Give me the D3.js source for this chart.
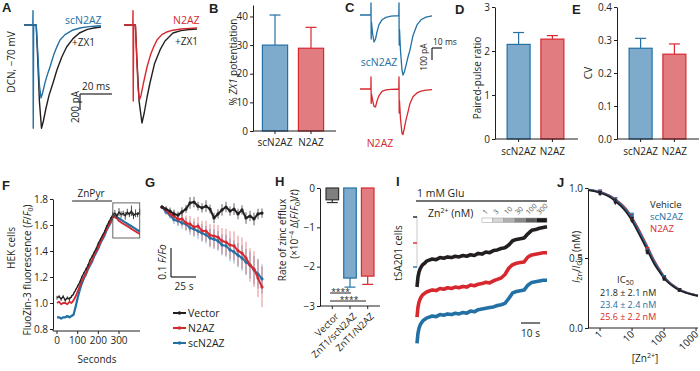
<!DOCTYPE html>
<html>
<head>
<meta charset="utf-8">
<script src="https://cdn.jsdelivr.net/npm/d3@7"></script>
<style>
  body { margin: 0; background: #fff; }
  svg text { font-family: "Open Sans", sans-serif; fill: #231f20; }
  svg .letter { font-family: "Liberation Sans", Arial, sans-serif; font-weight: bold; font-size: 13px; }
</style>
</head>
<body>
<svg id="fig" width="700" height="371"></svg>
<script>
// ---- data ----
// A: EPSCs (ms, pA) for scN2AZ and N2AZ, control vs +ZX1
const aTimeSc   = [-5.6, -0.1, 0, 0.15, 0.4, 2, 3, 4, 5, 6, 7.5, 9, 10.6, 13, 15, 16.9, 20, 25, 30, 35, 40, 42.5];
const aScCtrl   = [0, 0, 180, -1290, 0, 0, -350, -750, -912, -850, -720, -620, -525, -370, -270, -188, -120, -62, -35, -20, -12, -10];
const aTimeScZx = [-5.6, 2, 3, 4, 5.3, 6.5, 8, 10, 12.5, 15, 18, 21, 25, 29, 34, 38, 42.5];
const aScZx     = [0, 0, -450, -950, -1290, -1200, -1050, -880, -725, -560, -400, -275, -170, -100, -55, -38, -25];
const aTimeN2   = [-5.6, -0.1, 0, 0.15, 0.4, 1.5, 2.3, 3.2, 4, 5, 6.5, 8.75, 11, 13, 15, 18, 21, 25, 30, 35, 40];
const aN2Ctrl   = [0, 0, 180, -950, 0, 0, -400, -800, -937, -880, -730, -525, -370, -270, -188, -120, -88, -65, -50, -42, -37];
const aTimeN2Zx = [-5.6, 1.5, 2.5, 3.8, 5.6, 7, 8.8, 10.6, 13.5, 16.9, 20, 25, 30, 35, 40];
const aN2Zx     = [0, 0, -450, -950, -1225, -1100, -900, -725, -480, -312, -200, -100, -70, -57, -50];

// B, D, E: bar values
const groups   = ['scN2AZ', 'N2AZ'];
const bPot     = [30, 28.9];
const bPotErr  = [10.5, 7.3];
const dPpr     = [2.15, 2.27];
const dPprErr  = [0.27, 0.08];
const eCv      = [0.275, 0.257];
const eCvErr   = [0.030, 0.031];

// C: paired-pulse traces (ms, pA)
const cTime    = [-11, -0.1, 0, 0.2, 0.5, 1.5, 3, 4.5, 6, 8, 11, 15, 20, 27.8, 28, 28.2, 28.5, 29.5, 31, 32, 33.5, 35, 37, 39, 42, 46, 50, 55, 61];
const cScN2AZ  = [0, 0, 100, -200, -60, -150, -225, -200, -140, -80, -40, -20, -10, -5, 100, -250, -120, -300, -460, -500, -470, -420, -350, -290, -170, -83, -40, -18, -8];
const cN2AZ    = [0, 0, 100, -120, -40, -90, -145, -150, -100, -55, -20, -8, -3, 0, 100, -200, -100, -250, -370, -380, -320, -257, -190, -120, -65, -33, -18, -10, -5];

// F: FluoZin-3 F/F0 vs seconds
const fTime    = [0,10,20,30,40,50,60,70,80,90,100,110,120,130,140,150,160,170,180,190,200,210,220,230,240,250,260,270,280,290,300,310,320,330,340,350,360,370,380,390,400];
const fVector  = [1.04,1.05,1.03,1.05,1.02,1.04,1.03,1.05,1.07,1.10,1.13,1.16,1.20,1.23,1.26,1.29,1.33,1.36,1.39,1.42,1.46,1.49,1.52,1.55,1.59,1.62,1.65,1.68,1.69,1.67,1.70,1.68,1.69,1.67,1.70,1.68,1.71,1.67,1.69,1.68,1.70];
const fVecErr  = [0.015,0.012,0.015,0.012,0.014,0.012,0.015,0.012,0.012,0.01,0.01,0.01,0.01,0.01,0.01,0.01,0.01,0.01,0.01,0.01,0.01,0.01,0.01,0.01,0.01,0.012,0.012,0.02,0.025,0.02,0.03,0.025,0.02,0.03,0.025,0.02,0.04,0.025,0.03,0.02,0.025];
const fN2AZ    = [1.00,1.01,0.99,1.00,1.00,0.99,1.01,1.00,1.02,1.05,1.09,1.13,1.17,1.20,1.23,1.27,1.30,1.33,1.37,1.40,1.43,1.47,1.50,1.53,1.57,1.60,1.63,1.67,1.66,1.65,1.63,1.62,1.61,1.60,1.59,1.58,1.57,1.56,1.55,1.54,1.53];
const fScN2AZ  = [0.89,0.89,0.88,0.89,0.89,0.90,0.89,0.90,0.91,0.97,1.04,1.10,1.15,1.19,1.22,1.26,1.29,1.32,1.36,1.39,1.42,1.46,1.49,1.52,1.56,1.59,1.62,1.66,1.67,1.66,1.65,1.64,1.63,1.62,1.61,1.60,1.59,1.58,1.57,1.56,1.55];

// G: zoom of efflux phase, change in F/F0 vs seconds
const gTime    = [0,4,8,12,16,20,24,28,32,36,40,44,48,52,56,60,64,68,72,76,80,84,88,92,96,100];
const gVector  = [0,-0.007,-0.014,-0.024,-0.028,-0.017,-0.007,0.014,0.017,0.003,-0.003,0.003,-0.007,-0.038,-0.024,-0.010,0,-0.014,-0.007,-0.024,-0.010,-0.038,-0.031,-0.041,-0.024,-0.021];
const gVecErr  = [0.006,0.01,0.012,0.015,0.012,0.016,0.014,0.02,0.018,0.015,0.016,0.02,0.015,0.018,0.016,0.02,0.018,0.016,0.02,0.018,0.016,0.02,0.018,0.022,0.018,0.016];
const gN2AZ    = [0,-0.010,-0.024,-0.031,-0.042,-0.041,-0.055,-0.059,-0.069,-0.066,-0.082,-0.083,-0.097,-0.100,-0.104,-0.117,-0.121,-0.131,-0.134,-0.151,-0.159,-0.176,-0.200,-0.214,-0.245,-0.276];
const gN2Err   = [0.005,0.01,0.014,0.018,0.02,0.024,0.026,0.028,0.03,0.032,0.034,0.036,0.038,0.04,0.042,0.044,0.046,0.048,0.05,0.052,0.054,0.056,0.058,0.062,0.066,0.07];
const gScN2AZ  = [0,-0.017,-0.028,-0.044,-0.048,-0.055,-0.059,-0.072,-0.076,-0.083,-0.090,-0.096,-0.107,-0.111,-0.117,-0.131,-0.134,-0.148,-0.155,-0.166,-0.176,-0.190,-0.200,-0.217,-0.231,-0.248];
const gScErr   = [0.005,0.01,0.012,0.015,0.018,0.02,0.022,0.024,0.026,0.028,0.03,0.03,0.032,0.034,0.034,0.036,0.038,0.04,0.04,0.042,0.044,0.045,0.046,0.048,0.05,0.05];

// H: zinc efflux rate (x10^-4 d(F/F0)/t)
const hCats    = ['Vector', 'ZnT1/scN2AZ', 'ZnT1/N2AZ'];
const hRate    = [-0.30, -2.29, -2.24];
const hErr     = [0.07, 0.23, 0.21];

// I: glutamate currents, normalised to initial peak
const iTime    = [0,0.5,1,1.5,2,3,4,5,6,8,10,12,14,16,18,20,22,24,26,28,30,32,34,36,38,40,42,44,46,48,50,52,54,56,58,60,62,64,66,68];
const iVehicle = [-1.00,-0.86,-0.79,-0.75,-0.72,-0.68,-0.66,-0.63,-0.62,-0.60,-0.61,-0.58,-0.59,-0.57,-0.58,-0.56,-0.57,-0.55,-0.56,-0.54,-0.55,-0.52,-0.53,-0.50,-0.51,-0.48,-0.47,-0.45,-0.44,-0.40,-0.34,-0.32,-0.31,-0.30,-0.24,-0.19,-0.18,-0.16,-0.15,-0.14];
const iN2AZ    = [-1.06,-0.92,-0.85,-0.81,-0.78,-0.74,-0.72,-0.70,-0.69,-0.67,-0.68,-0.65,-0.66,-0.64,-0.65,-0.63,-0.64,-0.62,-0.63,-0.60,-0.61,-0.59,-0.58,-0.56,-0.57,-0.54,-0.52,-0.50,-0.45,-0.36,-0.31,-0.29,-0.28,-0.27,-0.20,-0.17,-0.16,-0.15,-0.14,-0.14];
const iScN2AZ  = [-1.09,-0.95,-0.88,-0.84,-0.81,-0.77,-0.75,-0.73,-0.72,-0.70,-0.71,-0.68,-0.69,-0.67,-0.68,-0.66,-0.67,-0.65,-0.66,-0.63,-0.64,-0.61,-0.60,-0.59,-0.58,-0.57,-0.55,-0.54,-0.52,-0.45,-0.37,-0.35,-0.34,-0.33,-0.26,-0.22,-0.21,-0.20,-0.19,-0.19];
const iZnLabels = ['1', '3', '10', '30', '100', '300'];

// J: Zn2+ inhibition
const jConc    = [1, 3, 10, 30, 100, 300];
const jVehicle = [0.96, 0.90, 0.77, 0.54, 0.35, 0.27];
const jScN2AZ  = [0.97, 0.91, 0.80, 0.55, 0.36, 0.27];
const jN2AZ    = [0.97, 0.91, 0.79, 0.56, 0.36, 0.27];
const jErr     = [0.015, 0.02, 0.02, 0.015, 0.015, 0.01];
const jFitX    = [0.42, 0.7, 1, 1.5, 2, 3, 5, 7, 10, 15, 20, 30, 50, 70, 100, 150, 200, 300, 500, 700, 1000, 1150];
const jFitVeh  = [0.985,0.975,0.965,0.95,0.935,0.905,0.86,0.82,0.765,0.69,0.635,0.555,0.455,0.405,0.355,0.315,0.295,0.27,0.25,0.24,0.232,0.23];
const jFitSc   = [0.988,0.98,0.97,0.957,0.943,0.915,0.873,0.835,0.782,0.71,0.655,0.575,0.472,0.418,0.365,0.322,0.30,0.275,0.253,0.243,0.235,0.232];
const jFitN2   = [0.988,0.981,0.972,0.959,0.946,0.92,0.879,0.842,0.79,0.72,0.665,0.585,0.48,0.425,0.37,0.326,0.303,0.277,0.255,0.244,0.236,0.233];
const jIc50    = ['21.8 ± 2.1 nM', '23.4 ± 2.4 nM', '25.6 ± 2.2 nM'];

// ---- styles ----
const INK = '#231f20', BLUE = '#2370a5', BLUE_FILL = '#7eaacb', RED = '#d7282f', RED_FILL = '#e17d81';

const svg = d3.select('#fig');
svg.append('rect').attr('width', 700).attr('height', 371).attr('fill', '#fff');

function letter(x, y, s) {
  svg.append('text').attr('class', 'letter').attr('x', x).attr('y', y).text(s);
}

function txt(x, y, parts, opt = {}) {
  const t = svg.append('text').style('font-size', (opt.size || 10) + 'px');
  if (opt.rot) t.attr('transform', `translate(${x},${y}) rotate(${opt.rot})`);
  else t.attr('x', x).attr('y', y);
  if (opt.anchor) t.attr('text-anchor', opt.anchor);
  if (opt.fill) t.style('fill', opt.fill);
  if (typeof parts === 'string') parts = [{t: parts}];
  parts.forEach(p => {
    const s = t.append('tspan').text(p.t);
    if (p.dy) s.attr('dy', p.dy);
    if (p.i) s.style('font-style', 'italic');
    if (p.s) s.style('font-size', p.s + 'px');
  });
  return t;
}

function seg(x1, y1, x2, y2, col = INK, w = 1) {
  svg.append('line').attr('x1', x1).attr('y1', y1).attr('x2', x2).attr('y2', y2)
    .attr('stroke', col).attr('stroke-width', w);
}

function trace(g, xs, ys, xS, yS, col, w = 1.4) {
  const pts = xs.map((t, i) => [t, ys[i]]);
  g.append('path').datum(pts)
    .attr('d', d3.line().x(d => xS(d[0])).y(d => yS(d[1])))
    .attr('fill', 'none').attr('stroke', col).attr('stroke-width', w)
    .attr('stroke-linejoin', 'round');
}

function yAxis(x, scale, ticks, fmt) {
  const a = svg.append('g').attr('transform', `translate(${x},0)`).style('color', INK)
    .call(d3.axisLeft(scale).tickValues(ticks).tickFormat(fmt).tickSize(3).tickSizeOuter(0).tickPadding(2));
  a.selectAll('text').style('font-size', '10px');
  return a;
}

// bar chart helper used by B, D, E, H
function bars(cfg) {
  const y = d3.scaleLinear().domain(cfg.yDom).range(cfg.yRng);
  const x = d3.scaleBand().domain(cfg.cats).range(cfg.xRng).paddingInner(cfg.pi).paddingOuter(cfg.po);
  yAxis(cfg.ax, y, cfg.ticks, cfg.fmt);
  cfg.vals.forEach((v, i) => {
    const c = cfg.cats[i], x0 = x(c), w = x.bandwidth(), cx = x0 + w / 2;
    const e = v + Math.sign(v) * cfg.errs[i];
    seg(cx, y(v), cx, y(e), cfg.strokes[i], 1.2);
    seg(cx - 5.5, y(e), cx + 5.5, y(e), cfg.strokes[i], 1.2);
    const top = y(Math.max(0, v)), bot = y(Math.min(0, v));
    svg.append('rect').attr('x', x0).attr('y', top).attr('width', w).attr('height', bot - top)
      .attr('fill', cfg.fills[i]).attr('stroke', cfg.strokes[i]).attr('stroke-width', 1.2);
  });
  seg(cfg.ax, cfg.baseY, cfg.xEnd, cfg.baseY);
  cfg.cats.forEach(c => {
    const cx = x(c) + x.bandwidth() / 2;
    seg(cx, cfg.baseY, cx, cfg.baseY + 3);
    if (cfg.labY) txt(cx, cfg.labY, c, {anchor: 'middle'});
  });
  return {x, y};
}

// ---- A ----
letter(2, 12, 'A');
txt(15, 62, 'DCN, −70 mV', {rot: -90, anchor: 'middle'});
{
  const xA = d3.scaleLinear().domain([0, 20]).range([0, 32]);
  const yA = d3.scaleLinear().domain([0, -200]).range([0, 16]);
  const g1 = svg.append('g').attr('transform', 'translate(33,25)');
  trace(g1, aTimeScZx, aScZx, xA, yA, INK);
  trace(g1, aTimeSc, aScCtrl, xA, yA, BLUE);
  const g2 = svg.append('g').attr('transform', 'translate(133,25)');
  trace(g2, aTimeN2Zx, aN2Zx, xA, yA, INK);
  trace(g2, aTimeN2, aN2Ctrl, xA, yA, RED);
  // scale bar 20 ms / 200 pA
  const sx = 80, sy = 94;
  seg(sx, sy, sx + xA(20), sy, INK, 1.2);
  seg(sx, sy, sx, sy + yA(-200), INK, 1.2);
  txt(sx + 16, sy - 4, '20 ms', {anchor: 'middle'});
  txt(sx - 1, sy + 13, '200 pA', {rot: -90, anchor: 'middle'});
}
txt(65, 24, 'scN2AZ', {fill: BLUE, size: 10.5});
txt(72, 46, '+ZX1', {size: 10});
txt(173, 24, 'N2AZ', {fill: RED, size: 10.5});
txt(175, 45, '+ZX1', {size: 10});

// ---- B ----
letter(209, 13, 'B');
bars({cats: groups, vals: bPot, errs: bPotErr, yDom: [0, 44], yRng: [131, 5], xRng: [257, 329], pi: 0.3, po: 0.15,
  ax: 253, ticks: [0, 10, 20, 30, 40], fmt: d3.format('d'), fills: [BLUE_FILL, RED_FILL], strokes: [BLUE, RED],
  baseY: 131, xEnd: 336, labY: 146});
txt(237, 62, [{t: '% '}, {t: 'ZX1', i: true}, {t: ' potentiation'}], {rot: -90, anchor: 'middle'});

// ---- C ----
letter(345, 12, 'C');
{
  const xC = d3.scaleLinear().domain([0, 10]).range([0, 10]);
  const yC = d3.scaleLinear().domain([0, -100]).range([0, 12]);
  trace(svg.append('g').attr('transform', 'translate(371,15)'), cTime, cScN2AZ, xC, yC, BLUE, 1.3);
  trace(svg.append('g').attr('transform', 'translate(371,89)'), cTime, cN2AZ, xC, yC, RED, 1.3);
  seg(432, 48, 432 + xC(10), 48, INK, 1.2);
  seg(432, 48, 432, 48 + yC(-100), INK, 1.2);
  txt(433, 45, '10 ms', {size: 8.5});
  txt(427, 57, '100 pA', {rot: -90, anchor: 'middle', size: 8.5});
}
txt(379, 66, 'scN2AZ', {fill: BLUE, anchor: 'middle', size: 10.5});
txt(380, 147, 'N2AZ', {fill: RED, anchor: 'middle', size: 10.5});

// ---- D ----
letter(455, 14, 'D');
bars({cats: groups, vals: dPpr, errs: dPprErr, yDom: [0, 3], yRng: [139, 7], xRng: [497, 574], pi: 0.32, po: 0.3,
  ax: 495, ticks: [0, 1, 2, 3], fmt: d3.format('d'), fills: [BLUE_FILL, RED_FILL], strokes: [BLUE, RED],
  baseY: 139, xEnd: 578, labY: 155});
txt(481, 78, 'Paired-pulse ratio', {rot: -90, anchor: 'middle'});

// ---- E ----
letter(572, 14, 'E');
bars({cats: groups, vals: eCv, errs: eCvErr, yDom: [0, 0.4], yRng: [139, 7], xRng: [619, 696], pi: 0.32, po: 0.3,
  ax: 617, ticks: [0, 0.1, 0.2, 0.3, 0.4], fmt: d3.format('.1f'), fills: [BLUE_FILL, RED_FILL], strokes: [BLUE, RED],
  baseY: 139, xEnd: 699, labY: 155});
txt(592, 73, 'CV', {rot: -90, anchor: 'middle'});

// ---- F ----
letter(2, 190, 'F');
{
  const xF = d3.scaleLinear().domain([0, 400]).range([57, 139.7]);
  const yF = d3.scaleLinear().domain([0.8, 1.8]).range([329, 199]);
  yAxis(53, yF, [0.8, 1.0, 1.2, 1.4, 1.6, 1.8], d3.format('.1f'));
  seg(53, 329, 53, 331);
  seg(53, 331, 140, 331);
  [0, 100, 200, 300].forEach(t => {
    seg(xF(t), 331, xF(t), 334);
    txt(xF(t), 344, String(t), {anchor: 'middle'});
  });
  txt(97, 363, 'Seconds', {anchor: 'middle'});
  // ZnPyr bar
  seg(xF(73), 201, xF(266), 201, INK, 1.2);
  txt(91, 197, 'ZnPyr', {anchor: 'middle'});
  const g = svg.append('g');
  trace(g, fTime, fScN2AZ, xF, yF, BLUE, 2.2);
  trace(g, fTime, fN2AZ, xF, yF, RED, 1.8);
  fTime.forEach((t, i) => {
    g.append('line').attr('x1', xF(t)).attr('x2', xF(t))
      .attr('y1', yF(fVector[i] - fVecErr[i])).attr('y2', yF(fVector[i] + fVecErr[i]))
      .attr('stroke', INK).attr('stroke-width', 0.8);
  });
  trace(g, fTime, fVector, xF, yF, INK, 1.3);
  // inset box
  g.append('rect').attr('x', xF(270)).attr('y', yF(1.77)).attr('width', xF(400) - xF(270))
    .attr('height', yF(1.50) - yF(1.77)).attr('fill', 'none').attr('stroke', '#555').attr('stroke-width', 0.9);
}
txt(31, 270, [{t: 'FluoZin-3 fluorescence ('}, {t: 'F', i: true}, {t: '/'}, {t: 'F', i: true}, {t: '0', dy: 2, s: 7}, {t: ')', dy: -2}],
  {rot: -90, anchor: 'middle'});
txt(15, 248, 'HEK cells', {rot: -90, anchor: 'middle'});

// ---- G ----
letter(145, 187, 'G');
{
  const xG = d3.scaleLinear().domain([0, 103]).range([162, 265]);
  const yG = d3.scaleLinear().domain([0, -0.1]).range([207, 236]);
  const g = svg.append('g');
  const series = [[gScN2AZ, gScErr, BLUE], [gN2AZ, gN2Err, RED], [gVector, gVecErr, INK]];
  series.forEach(([vals, errs, col]) => {
    gTime.forEach((t, i) => {
      g.append('line').attr('x1', xG(t)).attr('x2', xG(t))
        .attr('y1', yG(vals[i] - errs[i])).attr('y2', yG(vals[i] + errs[i]))
        .attr('stroke', col).attr('stroke-width', 0.7).attr('opacity', col === INK ? 1 : 0.75);
    });
  });
  series.forEach(([vals, errs, col]) => {
    trace(g, gTime, vals, xG, yG, col, 2);
    g.selectAll(null).data(gTime).enter().append('circle')
      .attr('cx', d => xG(d)).attr('cy', (d, i) => yG(vals[i])).attr('r', 1.6).attr('fill', col);
  });
  // scale bar 25 s / 0.1 F/F0
  seg(171, 277, 171 + (xG(25) - xG(0)), 277, INK, 1.2);
  seg(171, 277, 171, 277 - (yG(-0.1) - yG(0)), INK, 1.2);
  txt(184, 290, '25 s', {anchor: 'middle'});
  txt(166, 262, [{t: '0.1 '}, {t: 'F/Fo', i: true}], {rot: -90, anchor: 'middle'});
  // legend
  [['Vector', INK, 313], ['N2AZ', RED, 328], ['scN2AZ', BLUE, 343]].forEach(([name, col, ly]) => {
    seg(173, ly, 186, ly, col, 2);
    svg.append('circle').attr('cx', 179.5).attr('cy', ly).attr('r', 1.8).attr('fill', col);
    txt(188, ly + 4, name, {size: 10.5});
  });
}

// ---- H ----
letter(275, 186, 'H');
{
  const {x, y} = bars({cats: hCats, vals: hRate, errs: hErr, yDom: [-3, 0], yRng: [306, 188], xRng: [320.7, 379.3],
    pi: 0.29, po: 0.3, ax: 320, ticks: [0, -1, -2, -3], fmt: d3.format('d'), fills: ['#7f7f7f', BLUE_FILL, RED_FILL],
    strokes: ['#333', BLUE, RED], baseY: 306, xEnd: 380, labY: null});
  hCats.forEach(c => {
    const cx = x(c) + x.bandwidth() / 2;
    txt(cx + 7, 317, c, {rot: -45, anchor: 'end', size: 9.5});
  });
  // significance
  seg(330, 293, 351, 293);
  txt(340.5, 294.5, '****', {anchor: 'middle', size: 8.5});
  seg(330, 301, 366, 301);
  txt(349, 302.5, '****', {anchor: 'middle', size: 8.5});
}
txt(286, 240, 'Rate of zinc efflux', {rot: -90, anchor: 'middle'});
txt(298, 224, [{t: '(×10'}, {t: '−4', dy: -4, s: 7}, {t: ' Δ(', dy: 4}, {t: 'F', i: true}, {t: '/'}, {t: 'F', i: true},
  {t: '0', dy: 2, s: 7}, {t: ')/', dy: -2}, {t: 't', i: true}, {t: ')'}], {rot: -90, anchor: 'middle'});

// ---- I ----
letter(396, 186, 'I');
{
  const xI = d3.scaleLinear().domain([0, 68]).range([417, 547]);
  const yI = d3.scaleLinear().domain([0, -1]).range([0, 70]);
  txt(417, 197, '1 mM Glu', {size: 10.5});
  seg(416, 201, 547, 201, '#444', 1.6);
  txt(428, 217, [{t: 'Zn'}, {t: '2+', dy: -4, s: 7}, {t: ' (nM)', dy: 4}], {size: 10.5});
  const bw = (547 - 482) / iZnLabels.length;
  const shades = ['#ffffff', '#d6d6d6', '#b0b0b0', '#888888', '#5a5a5a', '#1a1a1a'];
  iZnLabels.forEach((s, i) => {
    svg.append('rect').attr('x', 482 + i * bw).attr('y', 218).attr('width', bw).attr('height', 4.5)
      .attr('fill', shades[i]).attr('stroke', '#999').attr('stroke-width', 0.5);
    txt(482 + i * bw + bw / 2 - 2, 215, s, {rot: -45, size: 7, fill: '#555'});
  });
  // zero-current markers
  seg(417, 216, 417, 268, '#bbb', 0.8);
  [[217, INK], [243, RED], [267, BLUE]].forEach(([zy, col]) => seg(413, zy, 417, zy, col, 1.4));
  trace(svg.append('g').attr('transform', 'translate(0,267)'), iTime, iScN2AZ, xI, yI, BLUE, 3.6);
  trace(svg.append('g').attr('transform', 'translate(0,243)'), iTime, iN2AZ, xI, yI, RED, 3.6);
  trace(svg.append('g').attr('transform', 'translate(0,217)'), iTime, iVehicle, xI, yI, INK, 3.6);
  seg(521, 323, 521 + (xI(10) - xI(0)), 323, INK, 1.2);
  txt(530.5, 337, '10 s', {anchor: 'middle'});
}
txt(402, 253, 'tSA201 cells', {rot: -90, anchor: 'middle'});

// ---- J ----
letter(557, 187, 'J');
{
  const xJ = d3.scaleLog().domain([0.42, 1150]).range([588, 698]);
  const yJ = d3.scaleLinear().domain([0, 1]).range([328, 188]);
  yAxis(588, yJ, [0, 0.5, 1], d3.format('.1f'));
  seg(588, 328, 698, 328);
  [1, 10, 100, 1000].forEach(v => {
    seg(xJ(v), 328, xJ(v), 331);
    txt(xJ(v) + 3, 335, String(v), {rot: -45, anchor: 'end'});
  });
  const g = svg.append('g');
  const line = d3.line().x(d => xJ(d[0])).y(d => yJ(d[1])).curve(d3.curveMonotoneX);
  [[jFitN2, RED], [jFitSc, BLUE], [jFitVeh, INK]].forEach(([ys, col]) => {
    g.append('path').datum(jFitX.map((v, i) => [v, ys[i]])).attr('d', line)
      .attr('fill', 'none').attr('stroke', col).attr('stroke-width', 1.8);
  });
  [[jN2AZ, RED], [jScN2AZ, BLUE], [jVehicle, INK]].forEach(([ys, col]) => {
    jConc.forEach((c, i) => {
      const cx = xJ(c);
      g.append('line').attr('x1', cx).attr('x2', cx).attr('y1', yJ(ys[i] - jErr[i])).attr('y2', yJ(ys[i] + jErr[i]))
        .attr('stroke', col).attr('stroke-width', 1);
      g.append('line').attr('x1', cx - 2).attr('x2', cx + 2).attr('y1', yJ(ys[i] + jErr[i])).attr('y2', yJ(ys[i] + jErr[i]))
        .attr('stroke', col).attr('stroke-width', 1);
      g.append('rect').attr('x', cx - 1.5).attr('y', yJ(ys[i]) - 1.5).attr('width', 3).attr('height', 3).attr('fill', col);
    });
  });
  txt(650, 208, 'Vehicle', {size: 9.5});
  txt(650, 220, 'scN2AZ', {size: 9.5, fill: BLUE});
  txt(650, 232, 'N2AZ', {size: 9.5, fill: RED});
  txt(617, 283, [{t: 'IC'}, {t: '50', dy: 2, s: 7}], {size: 9.5});
  [INK, BLUE, RED].forEach((col, i) => txt(600, 296 + i * 12, jIc50[i], {size: 9, fill: col}));
  txt(645, 362, [{t: '[Zn'}, {t: '2+', dy: -4, s: 7}, {t: ']', dy: 4}], {anchor: 'middle'});
}
txt(580, 257, [{t: 'I', i: true}, {t: 'Zn', dy: 2, s: 7}, {t: '/', dy: -2}, {t: 'I', i: true}, {t: 'Glu', dy: 2, s: 7}, {t: ' (nM)', dy: -2}],
  {rot: -90, anchor: 'middle'});
</script>
</body>
</html>
